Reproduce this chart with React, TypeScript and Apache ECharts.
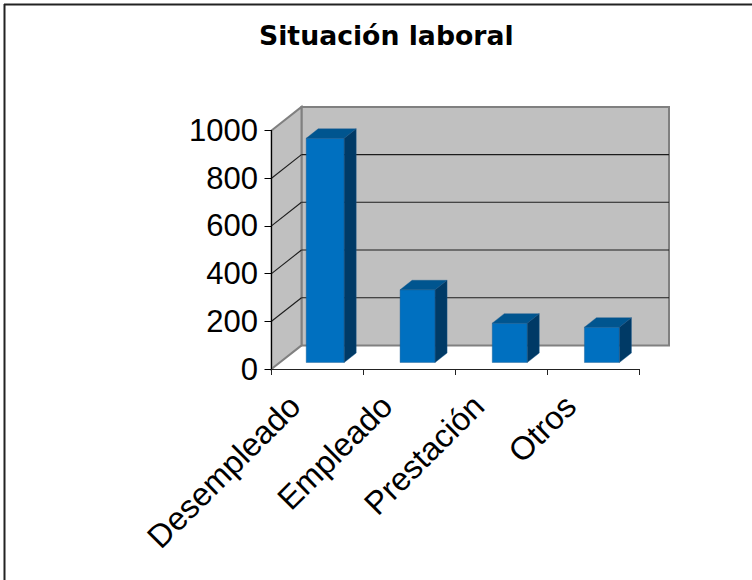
import React, { useEffect, useRef } from "react";
import * as echarts from "echarts";

const TITLE = "Situación laboral";
const categories = ["Desempleado", "Empleado", "Prestación", "Otros"];
const values = [940, 305, 165, 148];
const yTicks = [0, 200, 400, 600, 800, 1000];

const DX = 30; // depth of the chart box
const DY = -23.6;
const BAR_DX = 12;
const BAR_DY = -9.5;
const BASE_DY = -6.5;
const BAR_LEFT = [34.7, 36.7, 37, 37.3];
const BAR_W = [38, 35, 35, 35];

export default function App() {
  const ref = useRef<HTMLDivElement>(null);
  useEffect(() => {
    const chart = echarts.init(ref.current!, null, { renderer: "svg" });

    const frame = (api: any) => {
      const step = api.size([1, 0])[0];
      const l = api.coord([0, 0])[0] - step / 2;
      const r = l + step * categories.length;
      return { l, r, step };
    };

    const renderWall = (_: any, api: any) => {
      const { l, r } = frame(api);
      const b = api.coord([0, 0])[1];
      const t = api.coord([0, 1000])[1];
      const edge = { stroke: "#808080", lineWidth: 2 };
      const poly = (points: number[][], fill: string) => ({
        type: "polygon",
        shape: { points },
        style: { fill, ...edge },
      });
      return {
        type: "group",
        silent: true,
        children: [
          poly([[l + DX, t + DY], [r + DX, t + DY], [r + DX, b + DY], [l + DX, b + DY]], "#c0c0c0"),
          poly([[l, t], [l + DX, t + DY], [l + DX, b + DY], [l, b]], "#c0c0c0"),
        ],
      };
    };

    const renderGrid = (_: any, api: any) => {
      const v = api.value(0);
      const { l, r } = frame(api);
      const y = api.coord([0, v])[1];
      const line = (x1: number, y1: number, x2: number, y2: number) => ({
        type: "line",
        shape: { x1, y1, x2, y2 },
        style: { stroke: "#1c1c1c", lineWidth: 1.1 },
      });
      return {
        type: "group",
        silent: true,
        children: [line(l, y, l + DX, y + DY), line(l + DX, y + DY, r + DX, y + DY)],
      };
    };

    const renderBar = (_: any, api: any) => {
      const i = api.value(0);
      const v = api.value(1);
      const { l, step } = frame(api);
      const x0 = l + i * step + BAR_LEFT[i];
      const x1 = x0 + BAR_W[i];
      const yb = api.coord([i, 0])[1] + BASE_DY;
      const yt = api.coord([i, v])[1] + BASE_DY;
      const face = (points: number[][], fill: string) => ({
        type: "polygon",
        shape: { points },
        style: { fill, stroke: "#1a5a90", lineWidth: 0.4 },
      });
      return {
        type: "group",
        children: [
          face([[x0, yt], [x1, yt], [x1, yb], [x0, yb]], "#0070c0"),
          face([[x0, yt], [x0 + BAR_DX, yt + BAR_DY], [x1 + BAR_DX, yt + BAR_DY], [x1, yt]], "#00558f"),
          face([[x1, yt], [x1 + BAR_DX, yt + BAR_DY], [x1 + BAR_DX, yb + BAR_DY], [x1, yb]], "#003a66"),
        ],
      };
    };

    chart.setOption({
      animation: false,
      backgroundColor: "#ffffff",
      title: {
        text: TITLE,
        left: 254,
        top: 16.5,
        textStyle: { fontFamily: "DejaVu Sans", fontWeight: "bold", fontSize: 26.7, color: "#000" },
      },
      graphic: [
        { type: "line", z: 0, shape: { x1: 4, y1: 4.5, x2: 752, y2: 4.5 }, style: { stroke: "#222", lineWidth: 2 } },
        { type: "line", z: 0, shape: { x1: 4.5, y1: 4, x2: 4.5, y2: 580 }, style: { stroke: "#222", lineWidth: 2 } },
      ],
      grid: { left: 271.5, right: 752 - 639, top: 130.5, bottom: 580 - 369 },
      xAxis: {
        type: "category",
        data: categories,
        boundaryGap: true,
        z: 5,
        axisLine: { show: true, lineStyle: { color: "#222", width: 1 } },
        axisTick: { show: true, alignWithLabel: false, length: 6, lineStyle: { color: "#222" } },
        axisLabel: {
          interval: 0,
          rotate: 45,
          margin: 9,
          padding: [0, 32, 0, 0],
          fontFamily: "Liberation Sans",
          fontSize: 32.5,
          color: "#000",
        },
      },
      yAxis: {
        type: "value",
        min: 0,
        max: 1000,
        interval: 200,
        z: 5,
        splitLine: { show: false },
        axisLine: { show: true, lineStyle: { color: "#000", width: 1 } },
        axisTick: { show: true, length: 7, lineStyle: { color: "#000" } },
        axisLabel: {
          margin: 13.5,
          fontFamily: "Liberation Sans",
          fontSize: 31,
          color: "#000",
          formatter: (v: number) => String(v),
        },
      },
      series: [
        { type: "custom", renderItem: renderWall, data: [[0]], z: 1, silent: true, clip: false },
        { type: "custom", renderItem: renderGrid, data: yTicks.slice(1, -1).map((t) => [t]), encode: { y: 0 }, z: 2, silent: true, clip: false },
        {
          type: "custom",
          renderItem: renderBar,
          data: values.map((v, i) => [i, v]),
          encode: { x: 0, y: 1 },
          z: 3,
          clip: false,
        },
      ],
    });
    return () => chart.dispose();
  }, []);
  return <div ref={ref} style={{ position: "absolute", left: 0, top: 0, width: 752, height: 580 }} />;
}
